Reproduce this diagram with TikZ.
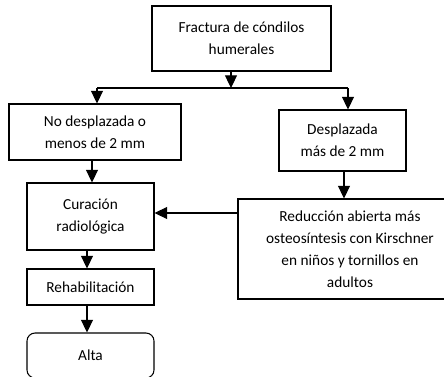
\documentclass[tikz,border=0pt]{standalone}
\usepackage{fontspec}
\setmainfont{Carlito}
\usetikzlibrary{arrows.meta}
\tikzset{
  box/.style={draw, line width=0.8pt, inner sep=0pt, align=center,
    font=\fontsize{11.5}{16.5}\selectfont},
  roundbox/.style={box, rounded corners=6pt},
  arr/.style={line width=0.8pt, -{Triangle[width=9pt,length=9.5pt]}},
  ln/.style={line width=0.8pt}
}
\begin{document}
\begin{tikzpicture}[x=0.75pt,y=-0.75pt]
\useasboundingbox[fill=white] (0,0) rectangle (444,376);
\begin{scope}
\clip (0,0) rectangle (444,376);
\node[box, minimum width={179*0.75pt}, minimum height={65*0.75pt}] (top) at (241.5,38.5) {Fractura de cóndilos\\humerales};
\node[box, minimum width={172*0.75pt}, minimum height={56*0.75pt}] (nodesp) at (95,132) {No desplazada o\\menos de 2 mm};
\node[box, minimum width={127*0.75pt}, minimum height={61*0.75pt}] (desp) at (342.5,140.5) {Desplazada\\más de 2 mm};
\node[box, minimum width={127*0.75pt}, minimum height={67*0.75pt}] (cur) at (90.5,216.5) {Curación\\radiológica};
\node[box, minimum width={224*0.75pt}, minimum height={100*0.75pt}] (red) at (350,249) {Reducción abierta más\\osteosíntesis con Kirschner\\en niños y tornillos en\\adultos};
\node[box, minimum width={127*0.75pt}, minimum height={36*0.75pt}] (reh) at (90.5,287) {Rehabilitación};
\node[roundbox, minimum width={127*0.75pt}, minimum height={45*0.75pt}] (alta) at (90.5,355.5) {Alta};

\coordinate (j) at (231,88);
\coordinate (jl) at (97,88);
\coordinate (jr) at (348,88);
\draw[arr] (top.south -| j) -- (j);
\draw[ln] (jl) -- (jr);
\draw[arr] (jl) -- (jl |- nodesp.north);
\draw[arr] (jr) -- (jr |- desp.north);

\coordinate (a1) at (92,0);
\draw[arr] (nodesp.south -| a1) -- (cur.north -| a1);
\coordinate (a2) at (344,0);
\draw[arr] (desp.south -| a2) -- (red.north -| a2);
\coordinate (a3) at (0,213);
\draw[arr] (red.west |- a3) -- (cur.east |- a3);
\coordinate (a4) at (87,0);
\draw[arr] (cur.south -| a4) -- (reh.north -| a4);
\draw[arr] (reh.south -| a4) -- (alta.north -| a4);
\end{scope}
\end{tikzpicture}
\end{document}
